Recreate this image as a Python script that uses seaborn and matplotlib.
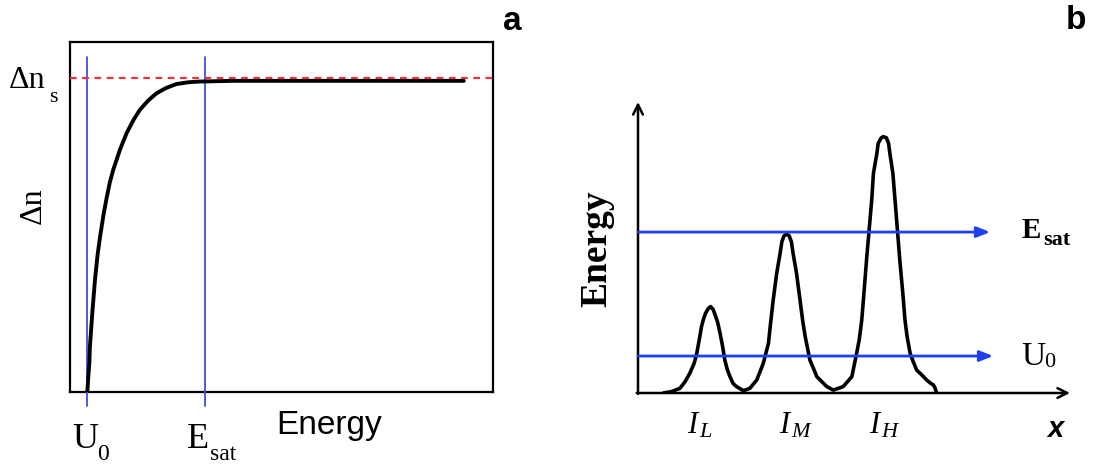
import numpy as np
import pandas as pd
import matplotlib
matplotlib.use("Agg")
import matplotlib.pyplot as plt
import seaborn as sns

# ---------------- data ----------------
# panel a: saturation curve  (energy in arbitrary units 0..100, delta-n 0..1)
energy_a = [4.1, 4.33, 4.57, 4.7, 5.3, 5.9, 6.5, 7.1, 7.9, 8.7, 9.4, 10.2, 11.8,
            13.4, 15.0, 16.5, 18.5, 20.5, 22.8, 25.2, 28.0, 30.7, 34.5, 38.5,
            50.0, 70.0, 93.1]
dn_a = [0.0, 0.044, 0.082, 0.129, 0.23, 0.32, 0.39, 0.443, 0.505, 0.557, 0.598,
        0.634, 0.692, 0.74, 0.777, 0.806, 0.833, 0.854, 0.869, 0.88, 0.885,
        0.887, 0.888, 0.889, 0.889, 0.889, 0.889]
u0_a = 4.0
esat_a = 31.9
dns_a = 0.897

# panel b: intensity profile (x 0..100, energy 0..100)
x_b = [5.9, 7.8, 9.7, 10.9, 12.0, 13.0, 13.6, 14.3, 14.7, 15.1, 15.6, 16.3,
       16.8, 17.4, 18.4, 19.0, 19.6, 20.1, 20.7, 21.3, 22.0, 22.8, 24.4, 25.9,
       27.5, 29.0, 30.2, 30.6, 31.3, 32.1, 32.9, 33.3, 33.8, 34.4, 35.0, 35.5,
       35.9, 36.7, 37.5, 38.1, 38.7, 39.8, 40.6, 41.4, 43.7, 45.2, 47.5, 49.5,
       50.6, 51.2, 51.8, 52.3, 52.9, 54.1, 54.5, 55.3, 55.6, 56.3, 56.8, 57.5,
       58.0, 58.3, 59.0, 59.5, 60.6, 61.3, 61.8, 62.3, 63.0, 63.7, 64.5, 65.7,
       66.8, 67.6, 68.4, 68.8, 69.1]
e_b = [0.0, 0.5, 1.6, 3.9, 6.8, 10.2, 13.6, 19.3, 22.8, 25.1, 27.3, 29.1,
       29.7, 28.7, 24.5, 20.5, 15.9, 11.3, 7.9, 5.6, 3.3, 2.2, 0.8, 1.6,
       4.5, 10.2, 17.1, 22.8, 32.0, 41.1, 48.0, 52.0, 54.0, 54.6, 54.0, 52.0,
       48.0, 41.1, 32.0, 25.1, 19.4, 11.3, 8.5, 5.6, 2.2, 1.0, 2.2, 5.6,
       13.6, 18.2, 25.1, 34.3, 45.7, 66.3, 75.5, 82.4, 85.8, 87.7, 88.1, 87.7,
       85.8, 82.4, 75.5, 66.3, 45.7, 34.3, 25.1, 19.3, 13.6, 10.8, 7.9, 6.2,
       4.5, 3.5, 2.7, 1.6, 0.0]
esat_b = 55.3
u0_b = 12.7
esat_b_end = 81.5
u0_b_end = 82.2
peak_labels = [("I", "L"), ("I", "M"), ("I", "H")]

# ---------------- figure ----------------
sns.set_style("white")
plt.rcParams["font.family"] = ["DejaVu Sans"]
plt.rcParams["text.color"] = "black"

W, H = 1093, 465
fig = plt.figure(figsize=(W / 100, H / 100), dpi=100)

def fx(px):
    return px / W

def fy(py):
    return 1 - py / H

SERIF = "Liberation Serif"
SANS = "Liberation Sans"

# ---------- panel a ----------
axa = fig.add_axes([fx(70), fy(392), (493 - 70) / W, (392 - 42) / H])
axa.set_xlim(0, 100)
axa.set_ylim(0, 1)
axa.set_xticks([])
axa.set_yticks([])
for s in axa.spines.values():
    s.set_visible(True)
    s.set_color("black")
    s.set_linewidth(1.6)

df_a = pd.DataFrame({"energy": energy_a, "dn": dn_a})
sns.lineplot(data=df_a, x="energy", y="dn", ax=axa, color="black", lw=2.8,
             sort=False, zorder=4)
axa.set_xlabel("")
axa.set_ylabel("")
vblue = "#3a55d8"
for xv in (u0_a, esat_a):
    axa.plot([xv, xv], [-0.04, 0.957], color=vblue, lw=1.3, clip_on=False, zorder=3)
axa.axhline(dns_a, color="#e8323c", lw=1.6, ls=(0, (3, 2.5)), zorder=5)

# texts panel a
kw = dict(color="black", ha="left", va="baseline")
fig.text(fx(9), fy(88), "Δn", family=SERIF, fontsize=23, **kw)
fig.text(fx(49), fy(102), "s", family=SERIF, fontsize=16, **kw)
fig.text(fx(33), fy(206), "Δn", family=SERIF, fontsize=23, rotation=90,
         ha="center", va="center", color="black")
fig.text(fx(72), fy(448), "U", family=SERIF, fontsize=26, **kw)
fig.text(fx(97), fy(460), "0", family=SERIF, fontsize=17, **kw)
fig.text(fx(187), fy(448), "E", family=SERIF, fontsize=26, **kw)
fig.text(fx(210), fy(460), "sat", family=SERIF, fontsize=17, **kw)
fig.text(fx(276), fy(434), "Energy", family=SANS, fontsize=24, **kw)
fig.text(fx(503), fy(30), "a", family=SANS, fontsize=24, fontweight="bold", **kw)
fig.text(fx(1066), fy(29), "b", family=SANS, fontsize=24, fontweight="bold", **kw)

# ---------- panel b ----------
axb = fig.add_axes([fx(638), fy(393), (1070 - 638) / W, (393 - 102) / H])
axb.set_xlim(0, 100)
axb.set_ylim(0, 100)
axb.axis("off")

df_b = pd.DataFrame({"x": x_b, "e": e_b})
sns.lineplot(data=df_b, x="x", y="e", ax=axb, color="black", lw=2.6, sort=False,
             zorder=4)
axb.set_xlabel("")
axb.set_ylabel("")

# axes arrows
axprops = dict(arrowstyle="->,head_length=0.7,head_width=0.35", color="black",
               lw=1.8, shrinkA=0, shrinkB=0)
axb.annotate("", xy=(0, 100), xytext=(0, -0.3), arrowprops=axprops,
             annotation_clip=False)
axb.annotate("", xy=(100, 0), xytext=(-0.3, 0), arrowprops=axprops,
             annotation_clip=False)

bprops = dict(arrowstyle="-|>,head_length=0.8,head_width=0.32", color="#1f3ff0",
              lw=2.0, shrinkA=0, shrinkB=0)
axb.annotate("", xy=(esat_b_end, esat_b), xytext=(0, esat_b), arrowprops=bprops,
             annotation_clip=False, zorder=5)
axb.annotate("", xy=(u0_b_end, u0_b), xytext=(0, u0_b), arrowprops=bprops,
             annotation_clip=False, zorder=5)

# texts panel b
fig.text(fx(597), fy(249), "Energy", family=SERIF, fontsize=27, fontweight="bold",
         rotation=90, ha="center", va="center", color="black")
fig.text(fx(1022), fy(238), "E", family=SERIF, fontsize=21, fontweight="bold", **kw)
fig.text(fx(1043), fy(245), "sat", family=SERIF, fontsize=16, fontweight="bold", **kw)
fig.text(fx(1021), fy(365), "U", family=SERIF, fontsize=24, **kw)
fig.text(fx(1044), fy(367), "0", family=SERIF, fontsize=16, **kw)

label_px = [687, 779, 869]
for (main, sub), px in zip(peak_labels, label_px):
    fig.text(fx(px), fy(433), main, family=SERIF, fontsize=22, style="italic", **kw)
    fig.text(fx(px + 12), fy(437), sub, family=SERIF, fontsize=16, style="italic", **kw)

fig.text(fx(1047), fy(437), "x", family=SANS, fontsize=21, fontweight="bold",
         style="italic", **kw)

fig.savefig("out.png", dpi=100)
